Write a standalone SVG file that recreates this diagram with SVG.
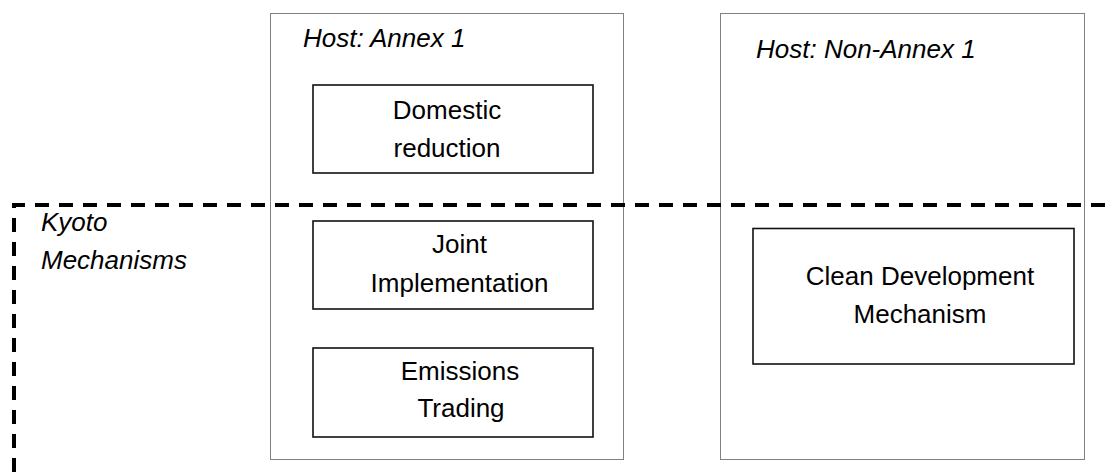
<svg xmlns="http://www.w3.org/2000/svg" width="1107" height="472" viewBox="0 0 1107 472">
  <style>
    .host { fill: none; stroke: #000; stroke-width: 1; stroke-dasharray: 1 1; }
    .box { fill: #fff; stroke: #111; stroke-width: 1.6; }
    .kyoto { fill: none; stroke: #000; stroke-width: 4; stroke-dasharray: 14 10; }
    .lbl { font-family: "Liberation Sans", Arial, sans-serif; font-size: 26px; fill: #000; text-anchor: middle; }
    .ital { font-family: "Liberation Sans", Arial, sans-serif; font-size: 26px; font-style: italic; fill: #000; }
  </style>
  <rect width="1107" height="472" fill="#fff"/>

  <!-- Host country regions -->
  <g id="host-annex1">
    <rect class="host" x="270.5" y="13.5" width="353" height="446"/>
    <text class="ital" x="303" y="47">Host: Annex 1</text>
  </g>
  <g id="host-non-annex1">
    <rect class="host" x="720.5" y="13.5" width="364" height="446"/>
    <text class="ital" x="756" y="58">Host: Non-Annex 1</text>
  </g>

  <!-- Kyoto mechanisms boundary -->
  <g id="kyoto-mechanisms">
    <path class="kyoto" d="M14 472 V205 H1107"/>
    <text class="ital" x="41" y="231">Kyoto</text>
    <text class="ital" x="41" y="269">Mechanisms</text>
  </g>

  <g id="domestic-reduction">
    <rect class="box" x="313" y="85" width="280" height="88"/>
    <text class="lbl" x="447" y="119">Domestic</text>
    <text class="lbl" x="447" y="157">reduction</text>
  </g>
  <g id="joint-implementation">
    <rect class="box" x="313" y="221" width="280" height="88"/>
    <text class="lbl" x="459.5" y="253">Joint</text>
    <text class="lbl" x="459.5" y="291.5">Implementation</text>
  </g>
  <g id="emissions-trading">
    <rect class="box" x="313" y="348" width="280" height="89"/>
    <text class="lbl" x="460" y="380">Emissions</text>
    <text class="lbl" x="461" y="417">Trading</text>
  </g>
  <g id="clean-development-mechanism">
    <rect class="box" x="753" y="228.5" width="321" height="135.5"/>
    <text class="lbl" x="920" y="285">Clean Development</text>
    <text class="lbl" x="920" y="323">Mechanism</text>
  </g>

  <g id="connectors"></g>
</svg>
